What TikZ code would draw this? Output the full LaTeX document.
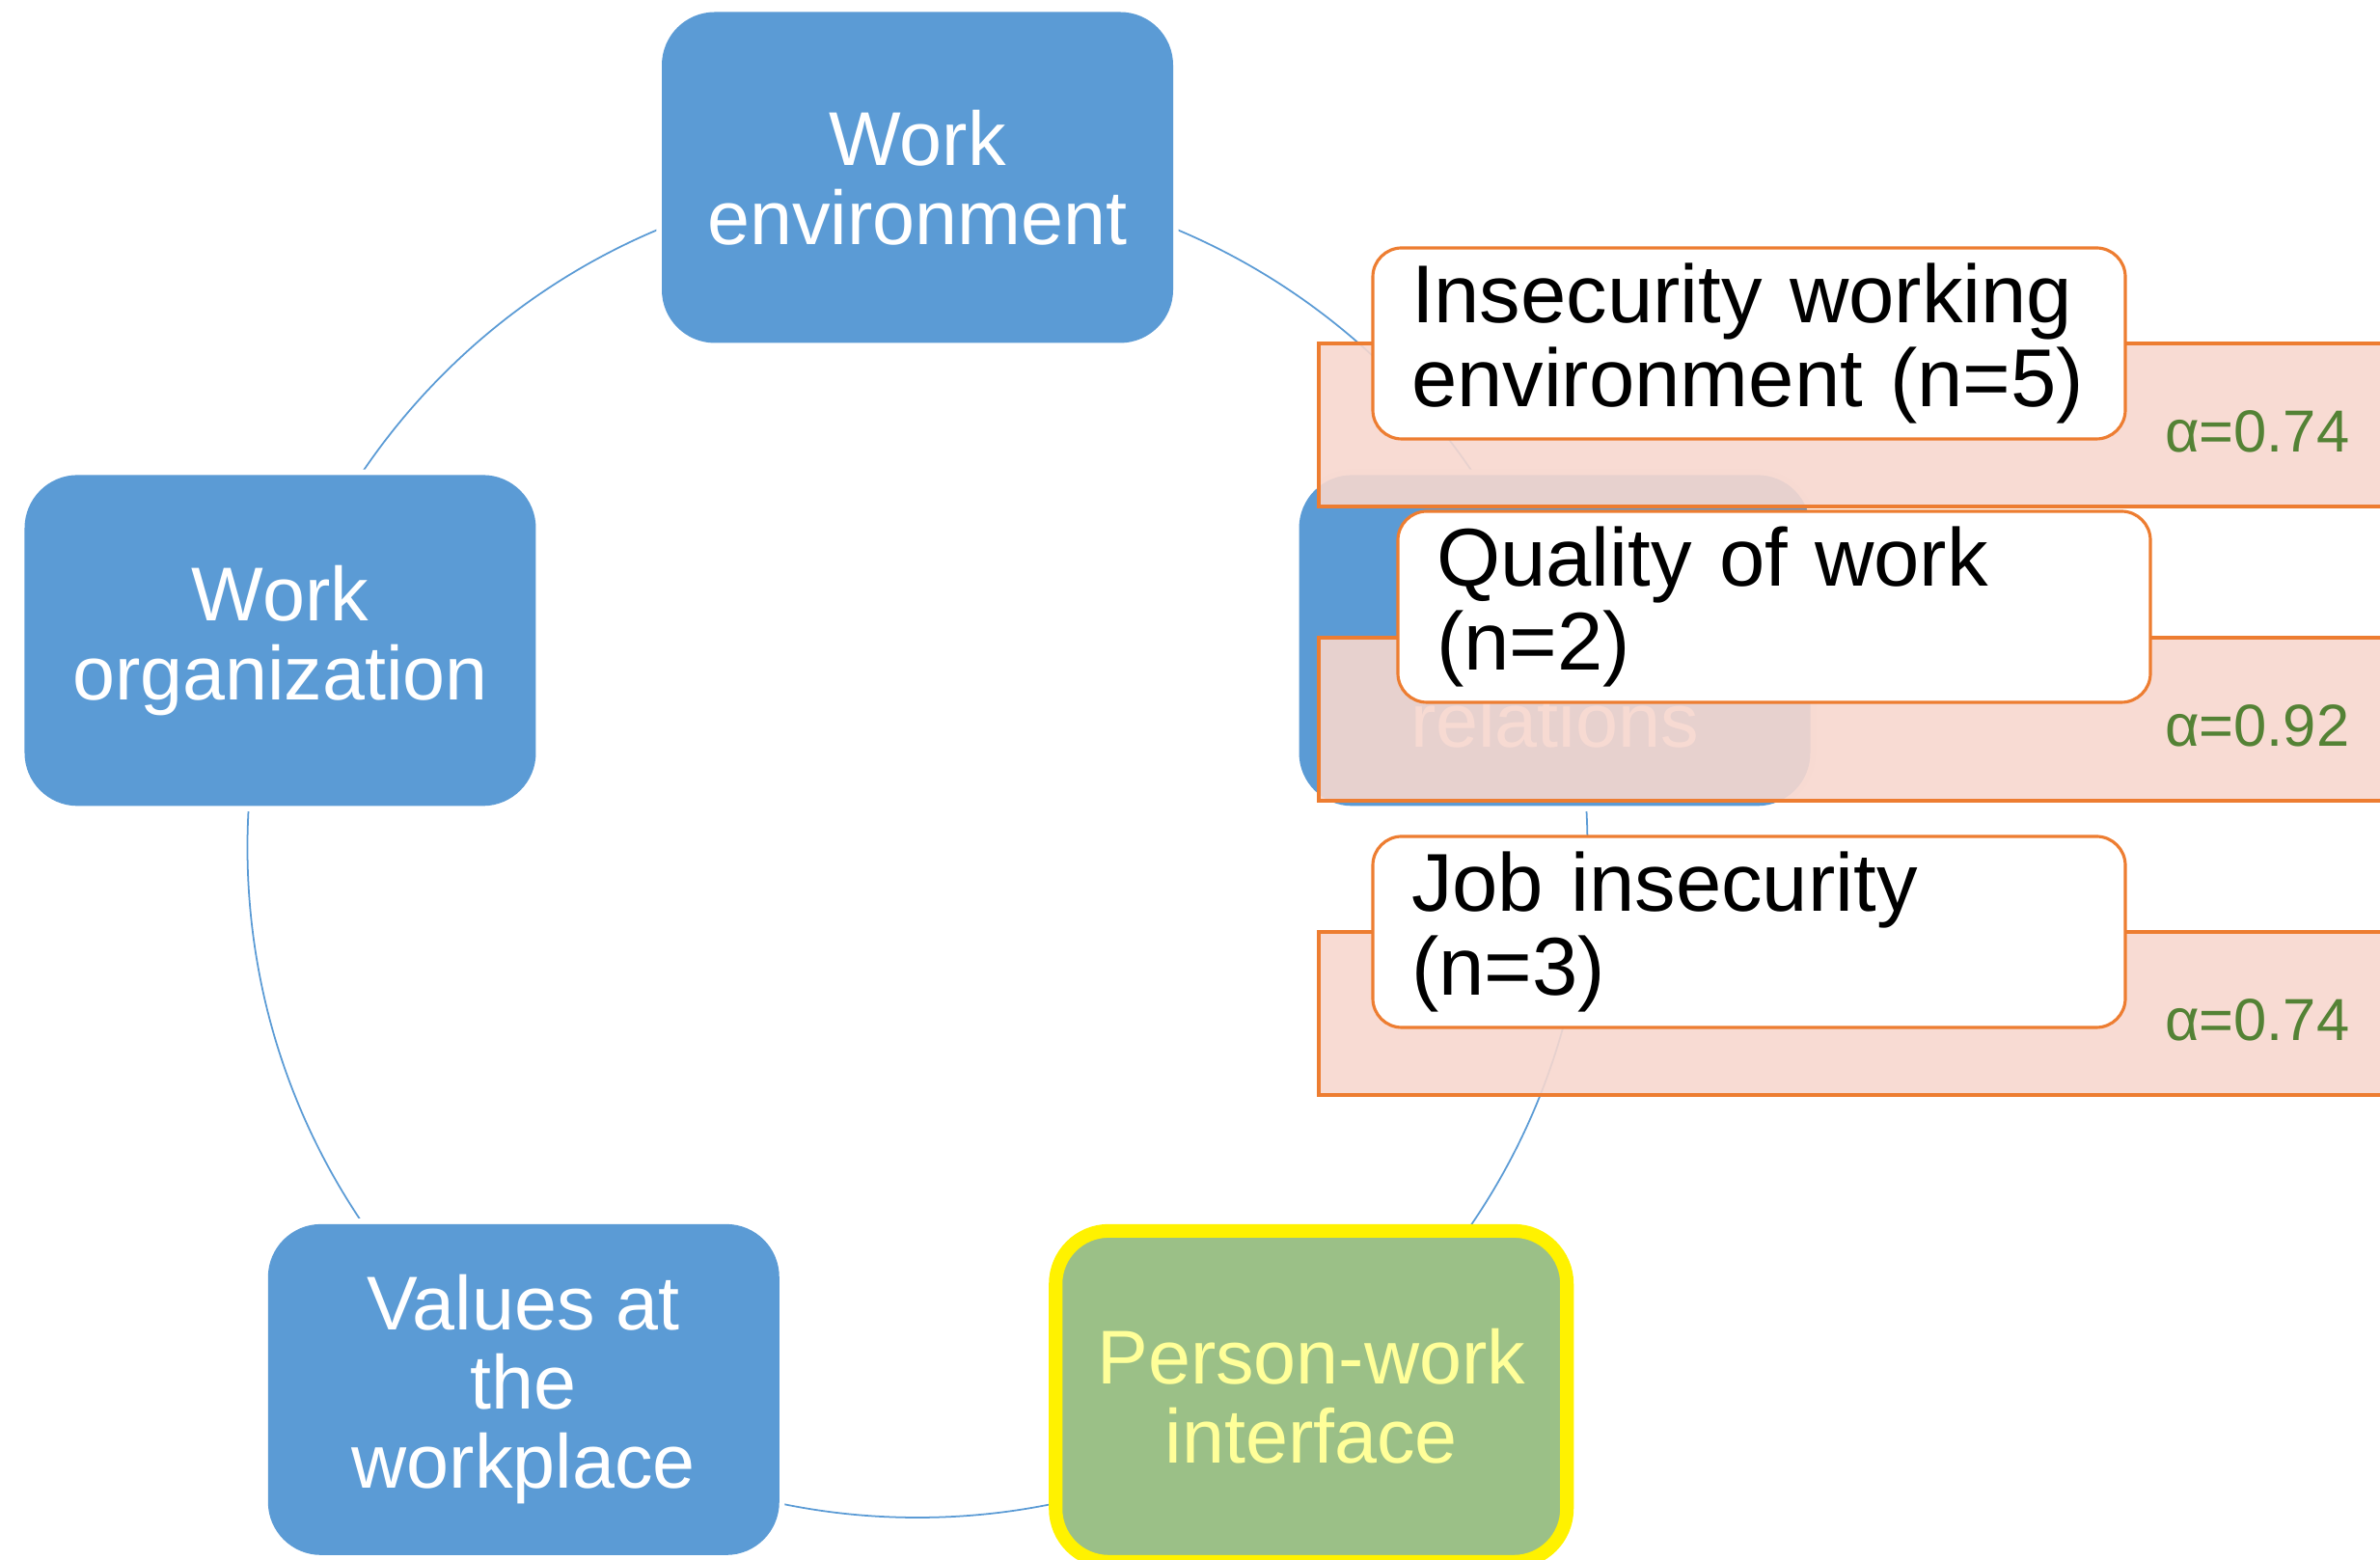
\documentclass[tikz,border=0pt]{standalone}
\usepackage{fontspec}
\setmainfont{Liberation Sans}
\usetikzlibrary{calc, positioning}
\definecolor{unitblue}{HTML}{5B9BD5}
\definecolor{unitgreen}{HTML}{9BC087}
\definecolor{paleyellow}{HTML}{FFFF99}
\definecolor{bandpink}{HTML}{F7D7CE}
\definecolor{bandline}{HTML}{ED7D31}
\definecolor{alphagreen}{HTML}{548235}
\tikzset{
  unit/.style={
    rectangle, rounded corners=0.55cm, minimum width=5.3cm, minimum height=3.43cm,
    inner sep=0pt, align=center, text=white, fill=unitblue,
    font=\fontsize{22.5}{23.3}\selectfont,
    preaction={draw=white, line width=3.2pt}
  },
  focus/.style={
    unit, fill=unitgreen, draw=yellow, line width=4pt, text=paleyellow
  },
  band/.style={
    rectangle, anchor=north west, minimum width=11.5cm, minimum height=1.69cm,
    inner sep=0pt, outer sep=0pt, draw=bandline, line width=0.9pt,
    fill=bandpink, fill opacity=0.9
  },
  item/.style={
    rectangle, anchor=north west, rounded corners=0.3cm, minimum width=7.8cm,
    minimum height=1.98cm, text width=7cm, inner xsep=0.4cm, inner ysep=0pt,
    outer sep=0pt, align=left, draw=bandline, line width=0.9pt, fill=white,
    font=\fontsize{24.2}{24.6}\selectfont
  },
  score/.style={
    anchor=base east, inner sep=0pt, text=alphagreen,
    font=\fontsize{17.5}{20}\selectfont
  },
  ring/.style={draw=unitblue, line width=0.5pt}
}

\begin{document}
\begin{tikzpicture}
  \useasboundingbox (0,0) rectangle (24.67,16.17);

  % Ring
  \coordinate (c) at (9.51,7.385);
  \draw[ring] (c) circle[radius=6.945];

  % Units
  \node[unit] (env) at ($(c)+(90:6.945)$) {Work\\environment};
  \node[unit] (org) at ($(c)+(162:6.945)$) {Work\\organization};
  \node[unit] (val) at ($(c)+(234:6.945)$) {Values at\\the\\workplace};
  \node[focus] (pwi) at ($(c)+(306:6.945)+(0,-0.07)$) {Person-work\\interface};
  \node[unit] (rel) at ($(c)+(18:6.945)$) {\strut\\\strut\\relations};

  % Bands
  \node[band] (band1) at (13.67,12.61) {};
  \node[band] (band2) at (13.67,9.56) {};
  \node[band] (band3) at (13.67,6.51) {};

  % Items
  \node[item] (item1) at (14.23,13.60) {Insecurity working\\environment (n=5)};
  \node[item] (item2) at (14.49,10.87) {Quality of work\\(n=2)};
  \node[item] (item3) at (14.23,7.50) {Job insecurity\\(n=3)};

  % Scores
  \node[score] (score1) at (24.36,11.48) {α=0.74};
  \node[score] (score2) at (24.36,8.43) {α=0.92};
  \node[score] (score3) at (24.36,5.38) {α=0.74};
\end{tikzpicture}
\end{document}
